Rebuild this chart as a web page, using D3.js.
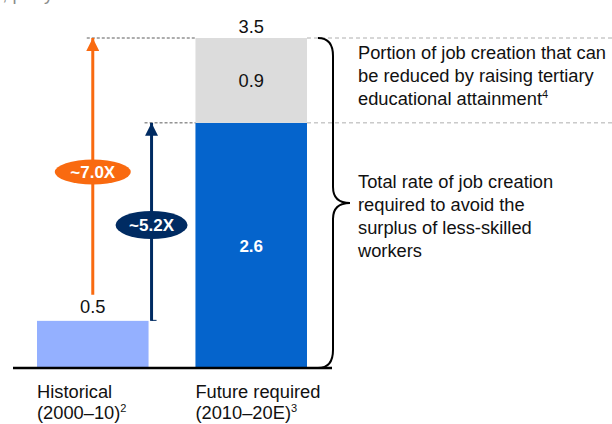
<!DOCTYPE html>
<html>
<head>
<meta charset="utf-8">
<script src="https://cdn.jsdelivr.net/npm/d3@7"></script>
<style>
  body { margin: 0; background: #fff; }
  svg { display: block; font-family: "Liberation Sans", Arial, sans-serif; }
</style>
</head>
<body>
<div id="chart"></div>
<script>
const width = 612, height = 424

// data
const categories = ["Historical", "Future required"]
const catSub = ["(2000–10)", "(2010–20E)"]
const catSup = ["2", "3"]
const historical = 0.5
const futureBase = 2.6
const futureReducible = 0.9
const futureTotal = 3.5
const multiples = ["~7.0X", "~5.2X"]
const notes = [
  ["Portion of job creation that can", "be reduced by raising tertiary", "educational attainment"],
  ["Total rate of job creation", "required to avoid the", "surplus of less-skilled", "workers"]
]

const fs = "18.3px"
const svg = d3.select("#chart").append("svg").attr("width", width).attr("height", height)

const x = d3.scaleBand().domain(categories).range([37, 307]).paddingInner(0.296).paddingOuter(0)
const y = d3.scaleLinear().domain([0, futureTotal]).range([368, 38])

// clipped unit label at very top
svg.append("text").attr("x", -14).attr("y", 0).attr("fill", "#8c8c8c").style("font-size", fs).text("%, per year")

const x0 = x(categories[0]), x1 = x(categories[1]), bw = x.bandwidth()

// bars
svg.append("rect").attr("x", x0).attr("width", bw).attr("y", y(historical)).attr("height", y(0) - y(historical)).attr("fill", "#94b0ff")
svg.append("rect").attr("x", x1).attr("width", bw).attr("y", y(futureBase)).attr("height", y(0) - y(futureBase)).attr("fill", "#0564cc")
svg.append("rect").attr("x", x1).attr("width", bw).attr("y", y(futureTotal)).attr("height", y(futureBase) - y(futureTotal)).attr("fill", "#dcdcdc")

// axis line
svg.append("line").attr("x1", 13).attr("x2", 332).attr("y1", y(0)).attr("y2", y(0)).attr("stroke", "#000").attr("stroke-width", 2.5)

// arrows
const orangeX = x0 + bw / 2, navyX = x0 + bw + 3
const defs = svg.append("defs")
function head(id, color) {
  defs.append("marker").attr("id", id).attr("viewBox", "0 0 10 10").attr("refX", 10).attr("refY", 5)
    .attr("markerUnits", "userSpaceOnUse").attr("markerWidth", 13).attr("markerHeight", 13).attr("orient", "auto")
    .append("path").attr("d", "M0,0 L10,5 L0,10 Z").attr("fill", color)
}
head("hO", "#f96a10")
head("hN", "#002b62")

// dashed guides
const dash = "3,2"
svg.append("line").attr("x1", orangeX - 6).attr("x2", x1).attr("y1", y(futureTotal)).attr("y2", y(futureTotal)).attr("stroke", "#333").attr("stroke-width", 0.8).attr("stroke-dasharray", dash)
svg.append("line").attr("x1", x1 + bw).attr("x2", 612).attr("y1", y(futureTotal)).attr("y2", y(futureTotal)).attr("stroke", "#999").attr("stroke-width", 0.8).attr("stroke-dasharray", "4,3")
svg.append("line").attr("x1", navyX - 7).attr("x2", x1).attr("y1", y(futureBase)).attr("y2", y(futureBase)).attr("stroke", "#333").attr("stroke-width", 0.8).attr("stroke-dasharray", dash)
svg.append("line").attr("x1", x1 + bw).attr("x2", 612).attr("y1", y(futureBase)).attr("y2", y(futureBase)).attr("stroke", "#999").attr("stroke-width", 0.8).attr("stroke-dasharray", "4,3")

svg.append("line").attr("x1", orangeX).attr("x2", orangeX).attr("y1", y(historical) - 26).attr("y2", y(futureTotal))
  .attr("stroke", "#f96a10").attr("stroke-width", 3).attr("marker-end", "url(#hO)")
svg.append("line").attr("x1", navyX).attr("x2", navyX).attr("y1", y(historical)).attr("y2", y(futureBase))
  .attr("stroke", "#002b62").attr("stroke-width", 3).attr("marker-end", "url(#hN)")
svg.append("line").attr("x1", navyX).attr("x2", navyX + 5).attr("y1", y(historical) - 0.5).attr("y2", y(historical) - 0.5).attr("stroke", "#002b62").attr("stroke-width", 1)

// multiple badges
const badges = [
  { cx: orangeX, cy: 172, rx: 38, ry: 12.5, fill: "#f96a10", t: multiples[0] },
  { cx: navyX, cy: 225, rx: 36, ry: 14, fill: "#002b62", t: multiples[1] }
]
for (const b of badges) {
  svg.append("ellipse").attr("cx", b.cx).attr("cy", b.cy).attr("rx", b.rx).attr("ry", b.ry).attr("fill", b.fill)
  svg.append("text").attr("x", b.cx).attr("y", b.cy).attr("dy", "0.36em").attr("text-anchor", "middle")
    .attr("fill", "#fff").attr("font-weight", "bold").style("font-size", "17px").text(b.t)
}

// value labels
const lbl = (xx, yy, t, opts = {}) => svg.append("text").attr("x", xx).attr("y", yy).attr("dy", "0.36em")
  .attr("text-anchor", "middle").attr("fill", opts.fill || "#111").attr("font-weight", opts.bold ? "bold" : null)
  .style("font-size", opts.size || fs).text(t)
lbl(x0 + bw / 2, y(historical) - 14, historical.toFixed(1))
lbl(x1 + bw / 2, y(futureTotal) - 12, futureTotal.toFixed(1))
lbl(x1 + bw / 2, (y(futureTotal) + y(futureBase)) / 2, futureReducible.toFixed(1))
lbl(x1 + bw / 2, (y(futureBase) + y(0)) / 2, futureBase.toFixed(1), { fill: "#fff", bold: true, size: "17px" })

// category labels
categories.forEach((c, i) => {
  const xx = x(c)
  svg.append("text").attr("x", xx).attr("y", 398).attr("fill", "#111").style("font-size", fs).text(c)
  const t = svg.append("text").attr("x", xx).attr("y", 419).attr("fill", "#111").style("font-size", fs).text(catSub[i])
  t.append("tspan").attr("dy", -7).style("font-size", "11px").text(catSup[i])
})

// brace
const bx = 318, bv = 333, tipX = 350, yTop = y(futureTotal), yBot = y(0), mid = 203
svg.append("path").attr("fill", "none").attr("stroke", "#000").attr("stroke-width", 2)
  .attr("d", `M${bx},${yTop} Q${bv},${yTop} ${bv},${yTop + 18} L${bv},${mid - 16} Q${bv},${mid} ${tipX},${mid}
              Q${bv},${mid} ${bv},${mid + 16} L${bv},${yBot - 18} Q${bv},${yBot} ${bx},${yBot}`)

// notes
const tx = 358
notes[0].forEach((s, i) => {
  const t = svg.append("text").attr("x", tx).attr("y", 59 + i * 23).attr("fill", "#111").style("font-size", fs).text(s)
  if (i === 2) t.append("tspan").attr("dy", -7).style("font-size", "11px").text("4")
})
notes[1].forEach((s, i) => {
  svg.append("text").attr("x", tx).attr("y", 188 + i * 23).attr("fill", "#111").style("font-size", fs).text(s)
})
</script>
</body>
</html>
